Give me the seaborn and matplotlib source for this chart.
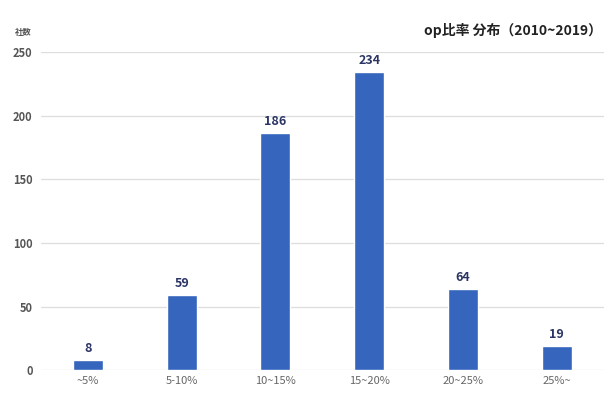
import matplotlib
matplotlib.use("Agg")
import matplotlib.pyplot as plt
import seaborn as sns
import pandas as pd

categories = ["~5%", "5-10%", "10~15%", "15~20%", "20~25%", "25%~"]
counts = [8, 59, 186, 234, 64, 19]
yticks = [0, 50, 100, 150, 200, 250]

sns.set_theme(style="white")
plt.rcParams['font.family'] = ['Noto Sans CJK JP', 'DejaVu Sans']

df = pd.DataFrame({"cat": categories, "n": counts})

fig = plt.figure(figsize=(6.11, 3.93), dpi=100)
ax = fig.add_axes([0.067, 0.058, 0.921, 0.81])
sns.barplot(data=df, x="cat", y="n", color="#3565bd", width=0.32, saturation=1, ax=ax)

ax.set_ylim(0, 250)
ax.set_xlim(-0.5, 5.5)
ax.set_yticks(yticks)
ax.set_yticklabels([str(t) for t in yticks], fontsize=8, color="#555555", fontweight="bold")
ax.set_xticks(range(len(categories)))
ax.set_xticklabels(categories, fontsize=8, color="#666666")
ax.tick_params(axis="y", length=0, pad=6)
ax.tick_params(axis="x", length=0, pad=4)
ax.yaxis.grid(True, color="#dddddd", linewidth=0.9)
ax.set_axisbelow(True)
for s in ax.spines.values():
    s.set_visible(False)
ax.set_xlabel("")
ax.set_ylabel("")

for i, v in enumerate(counts):
    ax.text(i, v + 4, str(v), ha="center", va="bottom", fontsize=9,
            fontweight="bold", color="#2b3564")

fig.text(0.025, 0.912, "社数", fontsize=6, color="#555555", fontweight="bold")
fig.text(0.985, 0.91, "op比率 分布（2010~2019）", fontsize=10, fontweight="bold",
         color="#222222", ha="right")

fig.savefig("out.png", dpi=100)
